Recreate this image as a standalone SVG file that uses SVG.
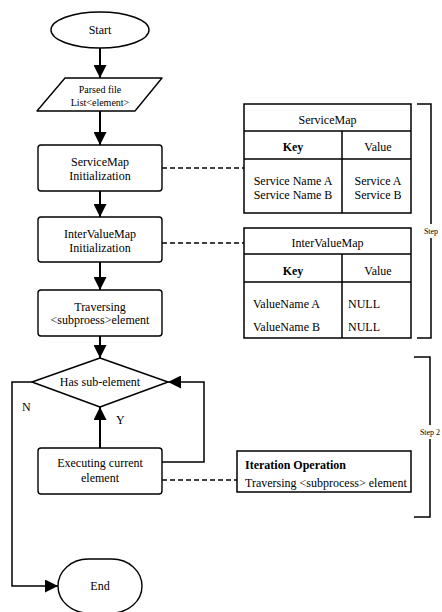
<svg xmlns="http://www.w3.org/2000/svg" width="442" height="612" viewBox="0 0 442 612" font-family="'Liberation Serif', 'Times New Roman', serif">
  <defs>
    <style>
      .shape { fill: #fff; stroke: #000; stroke-width: 1.4; stroke-linejoin: round; }
      .tbl { fill: #fff; stroke: #000; stroke-width: 1.5; }
      .grid { stroke: #000; stroke-width: 1.5; fill: none; }
      .flow { fill: none; stroke: #000; stroke-width: 2; }
      .loop { fill: none; stroke: #000; stroke-width: 1.5; }
      .dash { fill: none; stroke: #000; stroke-width: 1.5; stroke-dasharray: 5 3; }
      .brace { fill: none; stroke: #000; stroke-width: 1.5; }
      text { font-family: "Liberation Serif", "Times New Roman", serif; fill: #000; }
      .t { font-family: "Liberation Serif", "Times New Roman", serif; font-size: 12px; text-anchor: middle; }
      .tl { font-family: "Liberation Serif", "Times New Roman", serif; font-size: 12px; }
      .ts { font-family: "Liberation Serif", "Times New Roman", serif; font-size: 10px; text-anchor: middle; }
      .b { font-weight: bold; }
      .lbl { font-family: "Liberation Serif", "Times New Roman", serif; font-size: 8px; text-anchor: middle; }
    </style>
    <marker id="arrow" viewBox="0 0 13 13" refX="13" refY="6.5" markerWidth="13" markerHeight="13" markerUnits="userSpaceOnUse" orient="auto">
      <path d="M0,0 L13,6.5 L0,13 z" fill="#000"/>
    </marker>
  </defs>

  <!-- connectors -->
  <g id="connectors">
    <path class="flow" d="M100,48 V78" marker-end="url(#arrow)"/>
    <path class="flow" d="M100,111 V145" marker-end="url(#arrow)"/>
    <path class="flow" d="M100,191 V217" marker-end="url(#arrow)"/>
    <path class="flow" d="M100,262 V290" marker-end="url(#arrow)"/>
    <path class="flow" d="M100,336 V358" marker-end="url(#arrow)"/>
    <path class="flow" d="M100,448 V407" marker-end="url(#arrow)"/>
    <path class="loop" d="M162,462 H204 V382 H168" marker-end="url(#arrow)"/>
    <path class="loop" d="M32,382 H12 V586 H58" marker-end="url(#arrow)"/>
    <path class="dash" d="M162,168 H244"/>
    <path class="dash" d="M162,243 H244"/>
    <path class="dash" d="M162,480 H237"/>
    <text class="tl" x="22" y="411" font-size="11">N</text>
    <text class="tl" x="116" y="424" font-size="11">Y</text>
  </g>

  <g id="start">
    <ellipse class="shape" cx="100" cy="30" rx="49" ry="18"/>
    <text class="t" x="100" y="34">Start</text>
  </g>

  <g id="parsed-file">
    <polygon class="shape" points="65,78 162,78 135,111 37,111"/>
    <text class="ts" x="100" y="93">Parsed file</text>
    <text class="ts" x="100" y="106">List&lt;element&gt;</text>
  </g>

  <g id="servicemap-init">
    <rect class="shape" x="38" y="145" width="124" height="46" rx="3"/>
    <text class="t" x="100" y="166">ServiceMap</text>
    <text class="t" x="100" y="180">Initialization</text>
  </g>

  <g id="intervaluemap-init">
    <rect class="shape" x="38" y="217" width="124" height="45" rx="3"/>
    <text class="t" x="100" y="238">InterValueMap</text>
    <text class="t" x="100" y="252">Initialization</text>
  </g>

  <g id="traversing">
    <rect class="shape" x="38" y="290" width="124" height="46" rx="3"/>
    <text class="t" x="100" y="311">Traversing</text>
    <text class="t" x="100" y="324">&lt;subproess&gt;element</text>
  </g>

  <g id="has-sub-element">
    <polygon class="shape" points="100,358 168,382 100,407 32,382"/>
    <text class="t" x="100" y="386">Has sub-element</text>
  </g>

  <g id="executing">
    <rect class="shape" x="38" y="448" width="124" height="46" rx="3"/>
    <text class="t" x="100" y="467">Executing current</text>
    <text class="t" x="100" y="482">element</text>
  </g>

  <g id="end">
    <rect class="shape" x="58" y="559" width="84" height="54" rx="30" ry="27"/>
    <text class="t" x="100" y="590">End</text>
  </g>

  <g id="servicemap-table">
    <rect class="tbl" x="244" y="104" width="167" height="109"/>
    <path class="grid" d="M244,131 H411 M244,159 H411 M342,131 V213"/>
    <text class="t" x="327.5" y="124">ServiceMap</text>
    <text class="t b" x="293" y="151">Key</text>
    <text class="t" x="378" y="151">Value</text>
    <text class="t" x="293" y="185">Service Name A</text>
    <text class="t" x="293" y="199">Service Name B</text>
    <text class="t" x="378" y="185">Service A</text>
    <text class="t" x="378" y="199">Service B</text>
  </g>

  <g id="intervaluemap-table">
    <rect class="tbl" x="244" y="228" width="167" height="110"/>
    <path class="grid" d="M244,254 H411 M244,282 H411 M342,254 V338"/>
    <text class="t" x="327.5" y="247">InterValueMap</text>
    <text class="t b" x="293" y="275">Key</text>
    <text class="t" x="378" y="275">Value</text>
    <text class="tl" x="253" y="308">ValueName A</text>
    <text class="tl" x="253" y="331">ValueName B</text>
    <text class="tl" x="348" y="308">NULL</text>
    <text class="tl" x="348" y="331">NULL</text>
  </g>

  <g id="iteration-operation">
    <rect class="tbl" x="237" y="451" width="174" height="41"/>
    <text class="tl b" x="245" y="469">Iteration Operation</text>
    <text class="tl" x="245" y="487" font-size="11.5">Traversing &lt;subprocess&gt; element</text>
  </g>

  <g id="step-bracket">
    <path class="brace" d="M417,104 H431 V338 H417"/>
    <rect x="420" y="224" width="22" height="14" fill="#fff"/>
    <text class="lbl" x="431" y="234">Step</text>
  </g>

  <g id="step2-bracket">
    <path class="brace" d="M414,357 H430 V517 H414"/>
    <rect x="417" y="425" width="25" height="14" fill="#fff"/>
    <text class="lbl" x="430" y="435">Step 2</text>
  </g>
</svg>
